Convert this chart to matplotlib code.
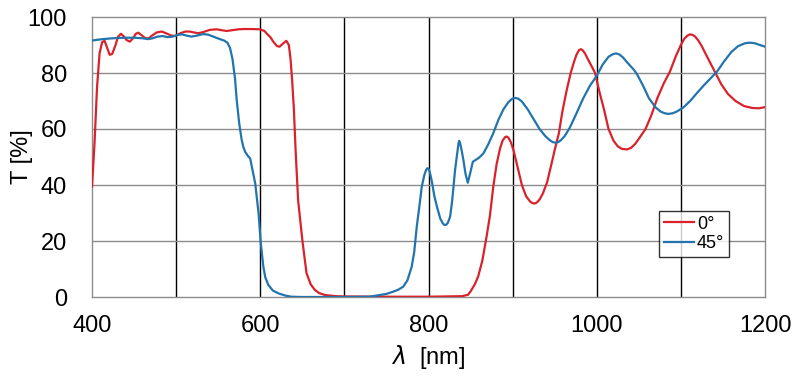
import numpy as np
import matplotlib
matplotlib.use('Agg')
import matplotlib.pyplot as plt

plt.rcParams['font.family'] = ['Liberation Sans', 'DejaVu Sans']

# transmission at 0 deg (red)
wl_0 = [400, 403, 406, 409, 412, 415, 418, 421, 424, 428, 431, 434.5, 438, 441, 445,
        449, 452, 455, 459, 463, 467, 472, 477, 483, 488, 494, 499, 505, 511, 516,
        521, 526, 532, 540, 548, 554, 560, 567, 574, 580, 590, 600, 605, 608, 612,
        616, 620, 623, 627, 631, 634, 636, 638, 640, 642, 645, 650, 655, 660, 665,
        670, 677, 690, 700, 750, 800, 840, 847, 850, 855, 859, 864, 869, 873, 877,
        881, 885, 888, 891, 893, 895, 898, 901, 905, 911, 916, 921, 924, 926.5, 929,
        932, 936, 941, 945, 950, 955, 959, 964, 969, 973, 976, 979, 981, 983, 986,
        989, 992, 995, 998, 1003, 1009, 1014, 1020, 1025, 1030, 1036, 1041, 1046, 1050, 1058,
        1065, 1072, 1080, 1087, 1094, 1100, 1104, 1108, 1111, 1114, 1117, 1121, 1125, 1130, 1136,
        1141, 1148, 1156, 1165, 1175, 1185, 1193, 1200]
T_0 = [39.4, 55, 75, 87, 91, 91.5, 89, 86.5, 86.8, 90, 93, 94, 93, 91.8, 91.2,
       92.5, 94, 94.4, 93.5, 92.5, 92.3, 93.5, 94.5, 94.8, 94.2, 93.4, 93.2, 94.2, 94.8, 94.8,
       94.5, 94.2, 94.6, 95.4, 95.6, 95.3, 95.0, 95.3, 95.6, 95.7, 95.7, 95.6, 95, 94, 92.8,
       91, 89.6, 89.4, 90.5, 91.5, 90, 85, 77, 67, 52.5, 34.6, 20.4, 8.5, 4.5, 2.5,
       1.4, 0.7, 0.3, 0.2, 0.1, 0.1, 0.3, 0.8, 2, 4.5, 7.3, 13, 21.5, 29, 39.4,
       47.5, 53, 55.8, 57.1, 57.3, 56.9, 55.2, 52.5, 47.5, 40, 36, 34, 33.5, 33.4, 33.8,
       34.8, 37, 41, 46, 52.5, 58.5, 66, 73.5, 80, 84, 86.6, 88.2, 88.5, 88.2, 87,
       85.2, 83.5, 81.8, 80, 73.5, 66.5, 60, 55.8, 53.8, 52.9, 52.7, 53.3, 54.8, 56.5, 60,
       65, 71, 76.5, 80.5, 86, 90, 92.2, 93.4, 93.8, 93.6, 93, 91.5, 89.5, 86.5, 83,
       80, 76, 72.5, 70, 68.2, 67.5, 67.4, 67.8]

# transmission at 45 deg (blue)
wl_45 = [400, 410, 420, 430, 440, 450, 460, 467, 472, 478, 484, 490, 496, 502, 507,
         512, 518, 524, 532, 538, 545, 552, 557, 561, 564, 567, 570, 572, 575, 578,
         580, 582, 585, 588, 591, 594, 598, 600.6, 603.7, 606, 609.6, 615, 621.5, 630, 637,
         650, 700, 730, 742.5, 750, 758, 764, 770, 775, 780, 783, 786, 789, 792, 795,
         797, 798.7, 800.5, 802, 804, 807, 810, 814, 817, 819, 821, 823, 825.7, 828, 831.6,
         834, 835.5, 836.4, 837.5, 839, 841.5, 844, 846.7, 849, 852.7, 857.4, 861, 865.3, 871, 877,
         883, 889, 895, 899, 903, 907, 911, 918, 925, 932, 939, 945, 948, 951, 954,
         957, 962, 968, 975, 984, 992, 1000, 1007, 1014, 1019, 1023, 1027, 1031, 1037, 1044,
         1048, 1055, 1062, 1070, 1076, 1081, 1085, 1090, 1095, 1103, 1111, 1119, 1127, 1135, 1143,
         1151, 1160, 1168, 1176, 1180, 1184, 1188, 1192, 1200]
T_45 = [91.6, 92, 92.3, 92.5, 92.6, 92.6, 92.4, 92.1, 92.4, 93, 93.2, 92.8, 93, 93.6, 93.8,
        93.4, 93, 93.3, 93.9, 93.7, 92.9, 92.1, 91.6, 90.8, 89, 85, 78, 70.4, 62, 56,
        53.5, 51.9, 50.5, 49.5, 45, 40.6, 29.9, 19.2, 10.8, 7, 4.3, 2.3, 1.3, 0.5, 0.1,
        0, 0, 0.1, 0.7, 1.1, 1.9, 2.6, 3.7, 6, 10.8, 16, 25, 32, 39.4, 43.5,
        45.3, 46, 45.6, 44, 41.2, 36, 32.3, 28, 26.3, 25.7, 25.8, 26.5, 28.7, 34, 45.4,
        51, 54.5, 55.8, 55, 53, 48.9, 44, 40.8, 43.5, 48.3, 49.2, 50, 51.3, 54.5, 58.5,
        63.2, 67, 69.6, 70.7, 71.1, 70.8, 69.8, 67, 63.5, 60, 57.4, 55.8, 55.3, 55.1, 55.3,
        55.9, 57.5, 60.5, 65, 71, 75.5, 79, 83, 85.8, 86.7, 87, 86.6, 85.6, 83.5, 81.2,
        79.5, 75.5, 71, 67.7, 66.2, 65.6, 65.4, 65.6, 66.2, 67.7, 70, 72.8, 75.5, 78, 80.5,
        84, 87.5, 89.6, 90.6, 90.8, 90.8, 90.6, 90.2, 89.4]

labels = ['0°', '45°']
colors = ['#d9222c', '#2274ad']

fig = plt.figure(figsize=(7.99, 3.8), dpi=100)
ax = fig.add_axes([92/799, 1 - 297/380, 673/799, 280/380])

ax.plot(wl_0, T_0, color=colors[0], lw=1.6, label=labels[0], zorder=3)
ax.plot(wl_45, T_45, color=colors[1], lw=1.6, label=labels[1], zorder=4)

ax.set_xlim(400, 1200)
ax.set_ylim(0, 100)
ax.set_xticks(np.arange(400, 1201, 200))
ax.set_yticks(np.arange(0, 101, 20))
for xv in range(500, 1200, 100):
    ax.axvline(xv, color='black', lw=1.0, zorder=1)
for yv in range(20, 100, 20):
    ax.axhline(yv, color='#8c8c8c', lw=1.0, zorder=1)
for s in ax.spines.values():
    s.set_color('#8c8c8c')
    s.set_linewidth(1.0)
ax.tick_params(length=0, labelsize=17, pad=18)
ax.tick_params(axis='x', pad=13)

ax.set_ylabel('T [%]', fontsize=17)
ax.yaxis.set_label_coords(-0.088, 0.5)
ax.set_xlabel(r'$\lambda$  [nm]', fontsize=17, labelpad=4)

leg = ax.legend(loc='lower left', bbox_to_anchor=((659-92)/673, (297-257)/280),
                fontsize=13, frameon=True, fancybox=False, edgecolor='black',
                borderpad=0.25, handlelength=1.7, handletextpad=0.15,
                labelspacing=0.15, borderaxespad=0)
leg.get_frame().set_linewidth(1.0)

plt.savefig('out.png', dpi=100)
